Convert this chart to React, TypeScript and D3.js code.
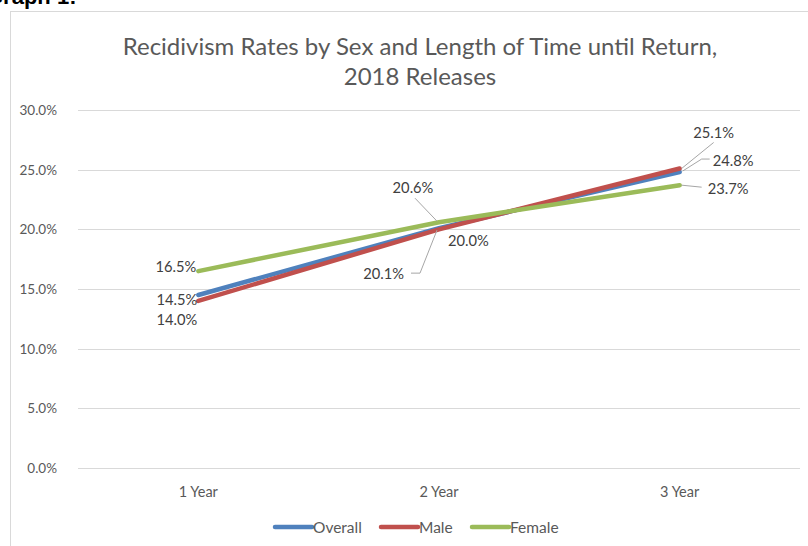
import React from "react";
import * as d3 from "d3";

const categories = ["1 Year", "2 Year", "3 Year"];
const seriesNames = ["Overall", "Male", "Female"];
const overall = [14.5, 20.1, 24.8];
const male = [14.0, 20.0, 25.1];
const female = [16.5, 20.6, 23.7];
const yTicks = [0, 5, 10, 15, 20, 25, 30];
const titleLines = ["Recidivism Rates by Sex and Length of Time until Return,", "2018 Releases"];
const colors = ["#4F81BD", "#C0504D", "#9BBB59"];

// label placement (layout only): offsets from the data point, optional leader path offsets
type Place = { dx: number; dy: number; anchor: string; leader?: [number, number][] };
const placements: Place[][] = [
  // Overall
  [
    { dx: -1, dy: 4, anchor: "end" },
    { dx: -35, dy: 45, anchor: "end", leader: [[-28, 45], [-19, 45], [-2, 2]] },
    { dx: 33, dy: -12, anchor: "start", leader: [[30, -13], [22, -13], [3, -1]] },
  ],
  // Male
  [
    { dx: -1, dy: 18, anchor: "end" },
    { dx: 9, dy: 11, anchor: "start" },
    { dx: 34, dy: -36, anchor: "middle", leader: [[34, -26], [2, 0]] },
  ],
  // Female
  [
    { dx: -2, dy: -5, anchor: "end" },
    { dx: -26, dy: -35, anchor: "middle", leader: [[-24, -24], [-2, -1]] },
    { dx: 28, dy: 3, anchor: "start", leader: [[22, 2], [2, 0]] },
  ],
];

const W = 808;
const H = 546;
const plot = { left: 78, right: 800, top: 110, bottom: 468 };
const font = "Lato, 'Open Sans', sans-serif";

export default function App() {
  const seriesVals = [overall, male, female];
  const x = d3.scaleBand<string>().domain(categories).range([plot.left, plot.right]);
  const y = d3.scaleLinear().domain([0, 30]).range([plot.bottom, plot.top]);
  const cx = (c: string) => (x(c) as number) + x.bandwidth() / 2;
  const line = d3
    .line<number>()
    .x((_, i) => cx(categories[i]))
    .y((v) => y(v));
  const fmt = (v: number) => v.toFixed(1) + "%";

  const legendItems = [
    { x: 275, tx: 313 },
    { x: 381, tx: 419 },
    { x: 472, tx: 510 },
  ];

  return (
    <svg
      width={W}
      height={H}
      style={{ position: "absolute", left: 0, top: 0, background: "#fff" }}
      fontFamily={font}
    >
      <text x={-14} y={4} fontSize={22} fontWeight="bold" fill="#000" fontFamily="'Liberation Sans', Arial, sans-serif">
        Graph 1:
      </text>
      <rect x={10.5} y={11.5} width={W} height={H} fill="#fff" stroke="#d9d9d9" strokeWidth={1} />
      {titleLines.map((t, i) => (
        <text key={i} x={420} y={45 + i * 30} textAnchor="middle" dominantBaseline="central" fontSize={24} fill="#595959">
          {t}
        </text>
      ))}
      {yTicks.map((t) => (
        <g key={t}>
          <line x1={plot.left} x2={plot.right} y1={Math.round(y(t)) + 0.5} y2={Math.round(y(t)) + 0.5} stroke="#d9d9d9" strokeWidth={1} />
          <text x={57} y={y(t)} textAnchor="end" dominantBaseline="central" fontSize={13.5} fill="#595959">
            {t.toFixed(1) + "%"}
          </text>
        </g>
      ))}
      {categories.map((c) => (
        <text key={c} x={cx(c)} y={491} textAnchor="middle" dominantBaseline="central" fontSize={14.5} fill="#595959">
          {c}
        </text>
      ))}
      {seriesVals.map((vals, s) => (
        <path key={s} d={line(vals) as string} fill="none" stroke={colors[s]} strokeWidth={4.5} strokeLinecap="round" strokeLinejoin="round" />
      ))}
      {seriesVals.map((vals, s) =>
        vals.map((v, i) => {
          const px = cx(categories[i]);
          const py = y(v);
          const p = placements[s][i];
          return (
            <g key={s + "-" + i}>
              {p.leader && (
                <path
                  d={d3.line()(p.leader.map(([a, b]) => [px + a, py + b]) as [number, number][]) as string}
                  fill="none"
                  stroke="#a6a6a6"
                  strokeWidth={1}
                />
              )}
              <text x={px + p.dx} y={py + p.dy} textAnchor={p.anchor} dominantBaseline="central" fontSize={14.7} fill="#404040">
                {fmt(v)}
              </text>
            </g>
          );
        })
      )}
      {seriesNames.map((n, s) => (
        <g key={n}>
          <line x1={legendItems[s].x} x2={legendItems[s].x + 37} y1={527} y2={527} stroke={colors[s]} strokeWidth={4.5} strokeLinecap="round" />
          <text x={legendItems[s].tx} y={527} dominantBaseline="central" fontSize={15.5} fill="#595959">
            {n}
          </text>
        </g>
      ))}
    </svg>
  );
}
